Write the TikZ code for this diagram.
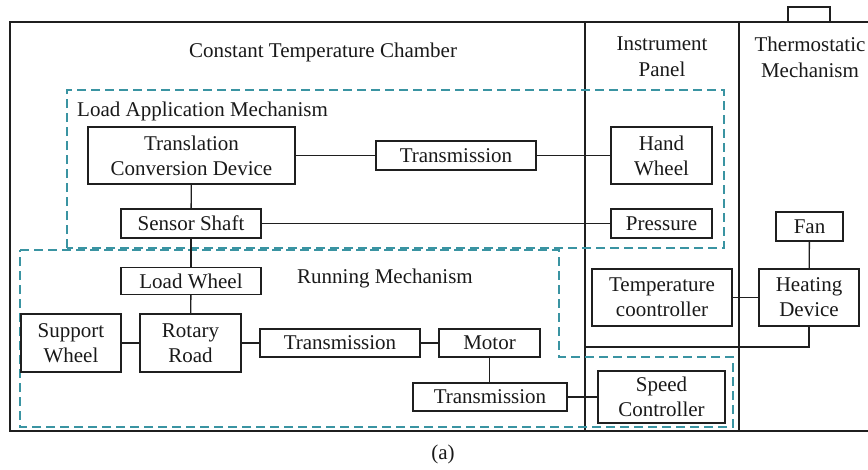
\documentclass[tikz,border=0pt]{standalone}
\usepackage{fontspec}
\setmainfont{Liberation Serif}
\begin{document}
\begin{tikzpicture}[x=1pt,y=-1pt,
  ink/.style={draw=black!88, line width=1.3pt},
  blk/.style={ink, rectangle, inner sep=0pt, align=center, text=black!90,
    font=\fontsize{21}{25}\selectfont},
  lbl/.style={inner sep=0pt, align=center, text=black!90,
    font=\fontsize{21}{26}\selectfont},
  zone/.style={draw={rgb,255:red,58;green,148;blue,162}, line width=1.2pt,
    dash pattern=on 9pt off 5pt}]
\useasboundingbox (0,0) rectangle (868,469);

% outer chamber frame and panel dividers
\draw[ink] (868,22) -- (10,22) -- (10,431) -- (868,431);
\draw[ink] (585,22) -- (585,431);
\draw[ink] (739,22) -- (739,431);
\draw[ink] (788,22) -- (788,7) -- (830,7) -- (830,22);

% section titles
\node[lbl] (tchamber) at (323,52) {Constant Temperature Chamber};
\node[lbl] (tpanel) at (662,57) {Instrument\\Panel};
\node[lbl] (tthermo) at (810,57) {Thermostatic\\Mechanism};

% dashed mechanism zones
\draw[zone] (67,248) -- (67,90) -- (724,90) -- (724,248) -- cycle;
\draw[zone] (20,250) -- (559,250) -- (559,357) -- (733,357) -- (733,427) -- (20,427) -- cycle;
\node[lbl, anchor=west] (tload) at (77,111) {Load Application Mechanism};
\node[lbl] (trun) at (385,278) {Running Mechanism};

% components
\node[blk, minimum width=207pt, minimum height=57pt] (tcd) at (191.5,155.5) {Translation\\Conversion Device};
\node[blk, minimum width=160pt, minimum height=29pt] (tr1) at (456,155.5) {Transmission};
\node[blk, minimum width=101pt, minimum height=57pt] (hand) at (661.5,155.5) {Hand\\Wheel};
\node[blk, minimum width=140pt, minimum height=29pt] (sensor) at (191,223.5) {Sensor Shaft};
\node[blk, minimum width=101pt, minimum height=29pt] (press) at (661.5,223.5) {Pressure};
\node[blk, minimum width=140pt, minimum height=27pt] (lwheel) at (191,281) {Load Wheel};
\node[blk, minimum width=100pt, minimum height=58pt] (swheel) at (71,343) {Support\\Wheel};
\node[blk, minimum width=101pt, minimum height=58pt] (rotary) at (190.5,343) {Rotary\\Road};
\node[blk, minimum width=160pt, minimum height=28pt] (tr2) at (340,343) {Transmission};
\node[blk, minimum width=101pt, minimum height=28pt] (motor) at (489.5,343) {Motor};
\node[blk, minimum width=154pt, minimum height=28pt] (tr3) at (490,397) {Transmission};
\node[blk, minimum width=127pt, minimum height=52pt] (speed) at (661.5,397) {Speed\\Controller};
\node[blk, minimum width=140pt, minimum height=57pt] (tctrl) at (662,297.5) {Temperature\\coontroller};
\node[blk, minimum width=100pt, minimum height=57pt] (heat) at (809,297.5) {Heating\\Device};
\node[blk, minimum width=67pt, minimum height=29pt] (fan) at (809.5,226.5) {Fan};

% connections
\draw[ink] (tcd) -- (tr1) -- (hand);
\draw[ink] (tcd) -- (sensor);
\draw[ink] (sensor) -- (press);
\draw[ink] (sensor) -- (lwheel);
\draw[ink] (lwheel) -- (rotary);
\draw[ink] (swheel) -- (rotary);
\draw[ink] (rotary) -- (tr2) -- (motor);
\draw[ink] (motor.south) -- (motor.south |- tr3.north);
\draw[ink] (tr3) -- (speed);
\draw[ink] (tctrl) -- (heat);
\draw[ink] (fan) -- (heat);
\coordinate (heatret) at (585,347);
\draw[ink] (heat.south) |- (heatret);

% caption
\node[lbl] (cap) at (443,454) {(a)};
\end{tikzpicture}
\end{document}
